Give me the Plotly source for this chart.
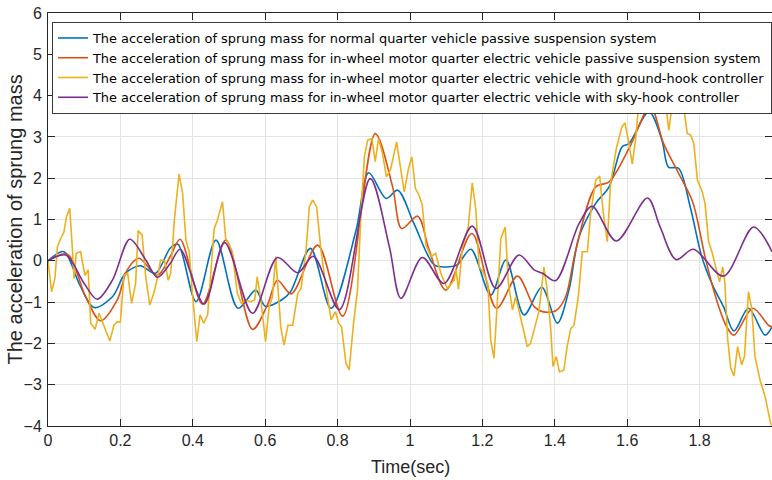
import plotly.graph_objects as go

# ---------------- data ----------------
names = [
    "The acceleration of sprung mass for normal quarter vehicle passive suspension system",
    "The acceleration of sprung mass for in-wheel motor quarter electric vehicle passive suspension system",
    "The acceleration of sprung mass for in-wheel motor quarter electric vehicle with ground-hook controller",
    "The acceleration of sprung mass for in-wheel motor quarter electric vehicle with sky-hook controller",
]

blue_x = [0, 0.044, 0.086, 0.127, 0.178, 0.214, 0.255, 0.297, 0.338, 0.359, 0.409, 0.464, 0.525,
          0.574, 0.6, 0.645, 0.67, 0.725, 0.782, 0.851, 0.886, 0.934, 0.966, 1.011, 1.067, 1.1,
          1.13, 1.168, 1.223, 1.265, 1.315, 1.364, 1.407, 1.439, 1.467, 1.513, 1.55, 1.586, 1.605,
          1.66, 1.696, 1.714, 1.742, 1.774, 1.806, 1.838, 1.866, 1.895, 1.935, 1.981, 2.0]
blue_y = [0, 0.22, -0.55, -1.13, -0.87, -0.3, -0.12, -0.3, 0.31, 0.4, -0.99, 0.5, -1.15,
          -0.71, -1.1, -0.95, -0.75, 0.3, -1.15, 0.74, 2.13, 1.51, 1.71, 0.9, -0.1, -0.15,
          -0.1, 0.28, -0.83, 0.02, -1.31, -0.64, -1.51, -0.71, 0.58, 1.39, 1.79, 2.76, 2.84,
          3.61, 2.92, 2.27, 2.24, 1.31, 0.1, -0.63, -1.11, -1.70, -1.15, -1.80, -1.6]

red_x = [0, 0.053, 0.104, 0.145, 0.191, 0.219, 0.251, 0.302, 0.338, 0.365, 0.427, 0.491, 0.565,
         0.606, 0.634, 0.672, 0.745, 0.814, 0.904, 0.952, 0.977, 1.021, 1.053, 1.099, 1.171,
         1.239, 1.297, 1.343, 1.366, 1.403, 1.43, 1.458, 1.513, 1.55, 1.605, 1.664, 1.70, 1.74,
         1.78, 1.795, 1.815, 1.847, 1.875, 1.895, 1.947, 1.99, 2.0]
red_y = [0, 0.16, -0.87, -1.45, -0.95, -0.22, 0.06, -0.35, 0.11, 0.52, -1.05, 0.5, -1.66,
         -1.07, -0.47, -0.8, 0.38, -1.34, 3.08, 1.79, 0.78, 1.08, 0.26, -0.71, 0.66,
         -1.15, -0.37, -1.11, -1.23, -1.21, -0.87, 0.26, 1.79, 1.91, 2.72, 3.74, 2.85, 2.15,
         1.45, 0.94, 0.1, -0.95, -1.6, -1.8, -1.15, -1.56, -1.6]

yellow_x = [0.0, 0.01, 0.019, 0.026, 0.035, 0.044, 0.051, 0.06, 0.067, 0.072, 0.078, 0.09, 0.102,
            0.111, 0.118, 0.13, 0.141, 0.154, 0.171, 0.182, 0.191, 0.2, 0.21, 0.22, 0.231, 0.242,
            0.249, 0.26, 0.27, 0.281, 0.292, 0.302, 0.311, 0.322, 0.332, 0.339, 0.349, 0.362,
            0.372, 0.381, 0.39, 0.399, 0.411, 0.42, 0.43, 0.441, 0.45, 0.459, 0.468, 0.482,
            0.491, 0.5, 0.509, 0.523, 0.534, 0.546, 0.56, 0.571, 0.578, 0.588, 0.601, 0.611,
            0.62, 0.629, 0.643, 0.652, 0.663, 0.676, 0.69, 0.699, 0.713, 0.722, 0.731, 0.742,
            0.754, 0.768, 0.782, 0.794, 0.803, 0.811, 0.823, 0.832, 0.844, 0.855, 0.865, 0.874,
            0.883, 0.895, 0.904, 0.913, 0.924, 0.935, 0.946, 0.963, 0.975, 0.984, 0.996, 1.005,
            1.015, 1.025, 1.034, 1.044, 1.058, 1.071, 1.085, 1.103, 1.122, 1.127, 1.134, 1.145,
            1.161, 1.172, 1.182, 1.191, 1.202, 1.215, 1.223, 1.232, 1.241, 1.251, 1.263, 1.272,
            1.283, 1.292, 1.306, 1.324, 1.333, 1.343, 1.356, 1.37, 1.379, 1.389, 1.395, 1.404,
            1.413, 1.425, 1.434, 1.444, 1.453, 1.465, 1.476, 1.49, 1.499, 1.513, 1.524, 1.533,
            1.545, 1.554, 1.57, 1.585, 1.594, 1.603, 1.614, 1.623, 1.632, 1.645, 1.655, 1.665,
            1.68, 1.695, 1.705, 1.715, 1.724, 1.738, 1.75, 1.766, 1.775, 1.784, 1.794, 1.806,
            1.815, 1.825, 1.834, 1.843, 1.855, 1.864, 1.87, 1.877, 1.886, 1.895, 1.905, 1.916,
            1.924, 1.935, 1.944, 1.953, 1.967, 1.981, 1.996, 2.0]
yellow_y = [0, -0.75, -0.43, 0.34, 0.54, 0.7, 1.07, 1.27, 0.34, -0.43, 0.18, 0.22, -0.35,
            -0.22, -1.51, -1.66, -1.27, -1.56, -1.94, -1.56, -1.48, -1.48, -0.35, -0.3, -1.03, -0.55,
            0.73, 0.62, -0.39, -1.07, -0.79, -0.43, 0.02, 0.0, -0.47, -0.3, 0.98, 2.1,
            1.63, 0.5, 0.22, -0.79, -1.96, -1.31, -1.51, -1.31, -0.35, 0.78, 0.98, 1.43,
            0.54, 0.38, 0.22, -0.79, -1.03, -0.95, -0.99, -0.95, -0.39, -0.95, -1.96, -1.11,
            -0.87, 0.1, -1.6, -2.04, -1.56, -1.56, -0.79, -0.67, 0.26, 1.31, 1.47, 1.31,
            0.26, -0.63, -1.43, -1.23, -1.51, -1.6, -2.48, -2.64, -1.51, -0.71, 1.23, 2.52,
            2.92, 2.96, 2.4, 2.96, 2.6, 2.03, 2.2, 2.88, 2.15, 1.67, 2.24, 2.52,
            1.75, 1.59, 1.35, 0.38, 0.1, 0.18, -0.3, -0.67, -0.47, -0.2, -0.69, 0.34,
            0.82, 1.89, 1.23, -0.15, -0.27, -0.55, -1.92, -2.36, -1.03, 0.54, 0.82, -0.55,
            -1.19, -0.87, -1.39, -2.08, -2.0, -1.68, -1.23, -0.15, -0.71, -1.68, -2.56, -2.32,
            -2.69, -2.65, -2.08, -1.64, -1.56, -0.87, 0.22, 0.22, 1.15, 1.95, 2.05, 1.23,
            0.46, 1.87, 2.72, 3.24, 3.34, 2.92, 2.34, 2.92, 3.81, 4.3, 4.1, 4.5,
            4.3, 4.4, 3.9, 3.16, 3.77, 4.3, 4.1, 3.08, 3.05, 2.84, 1.95, 1.71,
            1.39, 0.46, 0.22, -0.1, -0.51, -0.15, -0.55, -1.84, -2.6, -2.79, -2.08, -2.52,
            -2.32, -0.75, -1.15, -2.32, -2.89, -3.29, -3.93, -4.0]

purple_x = [0, 0.049, 0.1, 0.136, 0.178, 0.226, 0.27, 0.302, 0.338, 0.365, 0.431, 0.488, 0.565,
            0.634, 0.69, 0.733, 0.805, 0.89, 0.943, 0.975, 1.034, 1.094, 1.172, 1.237, 1.301,
            1.343, 1.366, 1.402, 1.467, 1.503, 1.57, 1.656, 1.691, 1.735, 1.783, 1.866, 1.949, 2.0]
purple_y = [0, 0.14, -0.55, -0.93, -0.47, 0.52, 0.02, -0.4, -0.06, 0.28, -1.05, 0.44, -1.27,
            0.08, -0.29, 0.11, -1.18, 1.99, 0.34, -0.91, 0.08, -0.55, 0.84, -0.67, 0.14,
            -0.22, -0.3, -0.48, 0.9, 1.32, 0.48, 1.52, 0.82, 0.03, 0.28, -0.37, 0.82, 0.22]

x_ticks = [0, 0.2, 0.4, 0.6, 0.8, 1, 1.2, 1.4, 1.6, 1.8, 2]
x_tick_text = ["0", "0.2", "0.4", "0.6", "0.8", "1", "1.2", "1.4", "1.6", "1.8", "2"]
y_ticks = [-4, -3, -2, -1, 0, 1, 2, 3, 4, 5, 6]

x_title = "Time(sec)"
y_title = "The acceleration of sprung mass"

colors = ["#0072BD", "#D95319", "#EDB120", "#7E2F8E"]

# ---------------- figure ----------------
FONT = "Liberation Sans, Arial, sans-serif"
LEG_FONT = "DejaVu Sans, Liberation Sans, sans-serif"
fig = go.Figure()
series = [(blue_x, blue_y, "spline"), (red_x, red_y, "spline"),
          (yellow_x, yellow_y, "linear"), (purple_x, purple_y, "spline")]
for (xs, ys, shape), name, col in zip(series, names, colors):
    fig.add_trace(go.Scatter(x=xs, y=ys, mode="lines", name=name,
                             line=dict(color=col, width=1.6, shape=shape, smoothing=0.9)))

axis_common = dict(showline=True, linecolor="#262626", linewidth=1, mirror="allticks",
                   ticks="inside", ticklen=7, tickcolor="#262626", showgrid=True,
                   gridcolor="#e3e3e3", gridwidth=1, zeroline=False, automargin=False,
                   tickfont=dict(family=FONT, size=16, color="#262626"))

fig.update_layout(
    width=772, height=480,
    margin=dict(l=48, r=0, t=13, b=54),
    paper_bgcolor="white", plot_bgcolor="white",
    font=dict(family=FONT, color="#262626"),
    showlegend=True,
    legend=dict(x=0.006, y=0.978, xanchor="left", yanchor="top",
                bgcolor="white", bordercolor="#3a3a3a", borderwidth=1,
                font=dict(family=LEG_FONT, size=12.9, color="#000000"),
                tracegroupgap=0),
    xaxis=dict(range=[0, 2], tickvals=x_ticks, ticktext=x_tick_text, **axis_common),
    yaxis=dict(range=[-4, 6], tickvals=y_ticks, ticklabelstandoff=2, **axis_common),
    annotations=[
        dict(text=x_title, xref="paper", yref="paper", x=0.5, y=-0.0995,
             xanchor="center", yanchor="middle", showarrow=False,
             font=dict(family=FONT, size=18, color="#262626")),
        dict(text=y_title, xref="paper", yref="paper", x=-0.0456, y=0.5,
             xanchor="center", yanchor="middle", textangle=-90, showarrow=False,
             font=dict(family=FONT, size=20, color="#262626")),
    ],
)

fig.write_html("out.html", config={"displayModeBar": False},
               post_script="document.body.style.margin='0';")
